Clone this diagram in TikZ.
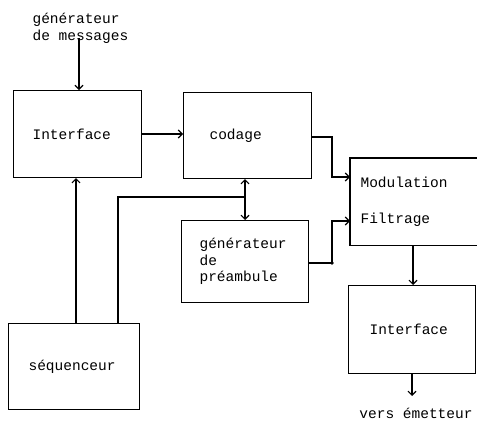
\documentclass[tikz,border=0pt]{standalone}
\usepackage{fontspec}
\setmonofont{Liberation Mono}
\usetikzlibrary{arrows.meta,calc}

\begin{document}
\begin{tikzpicture}[x=1pt,y=-1pt,line width=1.1pt,>={Straight Barb[length=4pt,width=8pt]},
	bloc/.style={draw,anchor=north west,inner ysep=0pt,align=left,font=\ttfamily\fontsize{14.5}{16.5}\selectfont},
	libre/.style={inner sep=0pt,align=left,font=\ttfamily\fontsize{14.5}{16.5}\selectfont}]
					\useasboundingbox (0,0) rectangle (477,423);
					%BLOCS
					\node[libre,anchor=west] (gen) at (32,28.5) {générateur\\de messages};
					\node[bloc,minimum height=87pt,inner xsep=19pt,text width=90pt] (intf) at (13,90) {Interface};
					\node[bloc,minimum height=86pt,inner xsep=26pt,text width=76pt] (codage) at (183,92) {codage};
					\node[bloc,draw=none,minimum height=86pt,inner xsep=10pt,text width=107pt] (modul) at (350,158) {Modulation\\[20pt]Filtrage};
					\draw (modul.north east) -| (modul.south west) -- (modul.south east);
					\node[bloc,minimum height=82pt,inner xsep=18pt,text width=91pt] (pream) at (181,220) {générateur\\de\\préambule};
					\node[bloc,minimum height=86pt,inner xsep=20pt,text width=91pt] (seq) at (8,323) {séquenceur};
					\node[bloc,minimum height=88pt,inner xsep=21pt,text width=85pt] (intfb) at (348,285) {Interface};
					\node[libre] (sortie) at (416,413) {vers émetteur};
					%LIAISONS
					\draw[->] (gen.south -| 79,0) ++(0,-6) -- (79,0 |- intf.north);
					\draw[->] (intf.east |- 0,134) -- (codage.west |- 0,134);
					\draw[->] (seq.north -| 76,0) -- (76,0 |- intf.south);
					\coordinate (jn) at (245,197);
					\draw[->] (seq.north -| 118,0) |- (jn) -- (jn |- codage.south);
					\draw[->] (jn) -- (jn |- pream.north);
					\draw[->] (codage.east |- 0,137) -| (332,177) -- (modul.west |- 0,177);
					\draw[->] (pream.east |- 0,263) -- (332,263) coordinate (dt) |- (modul.west |- 0,221);
					\fill (dt) circle (1.8);
					\draw[->] (modul.south -| 413,0) -- (413,0 |- intfb.north);
					\draw[->] (intfb.south -| 412,0) -- (412,396);
	  \end{tikzpicture}
\end{document}
